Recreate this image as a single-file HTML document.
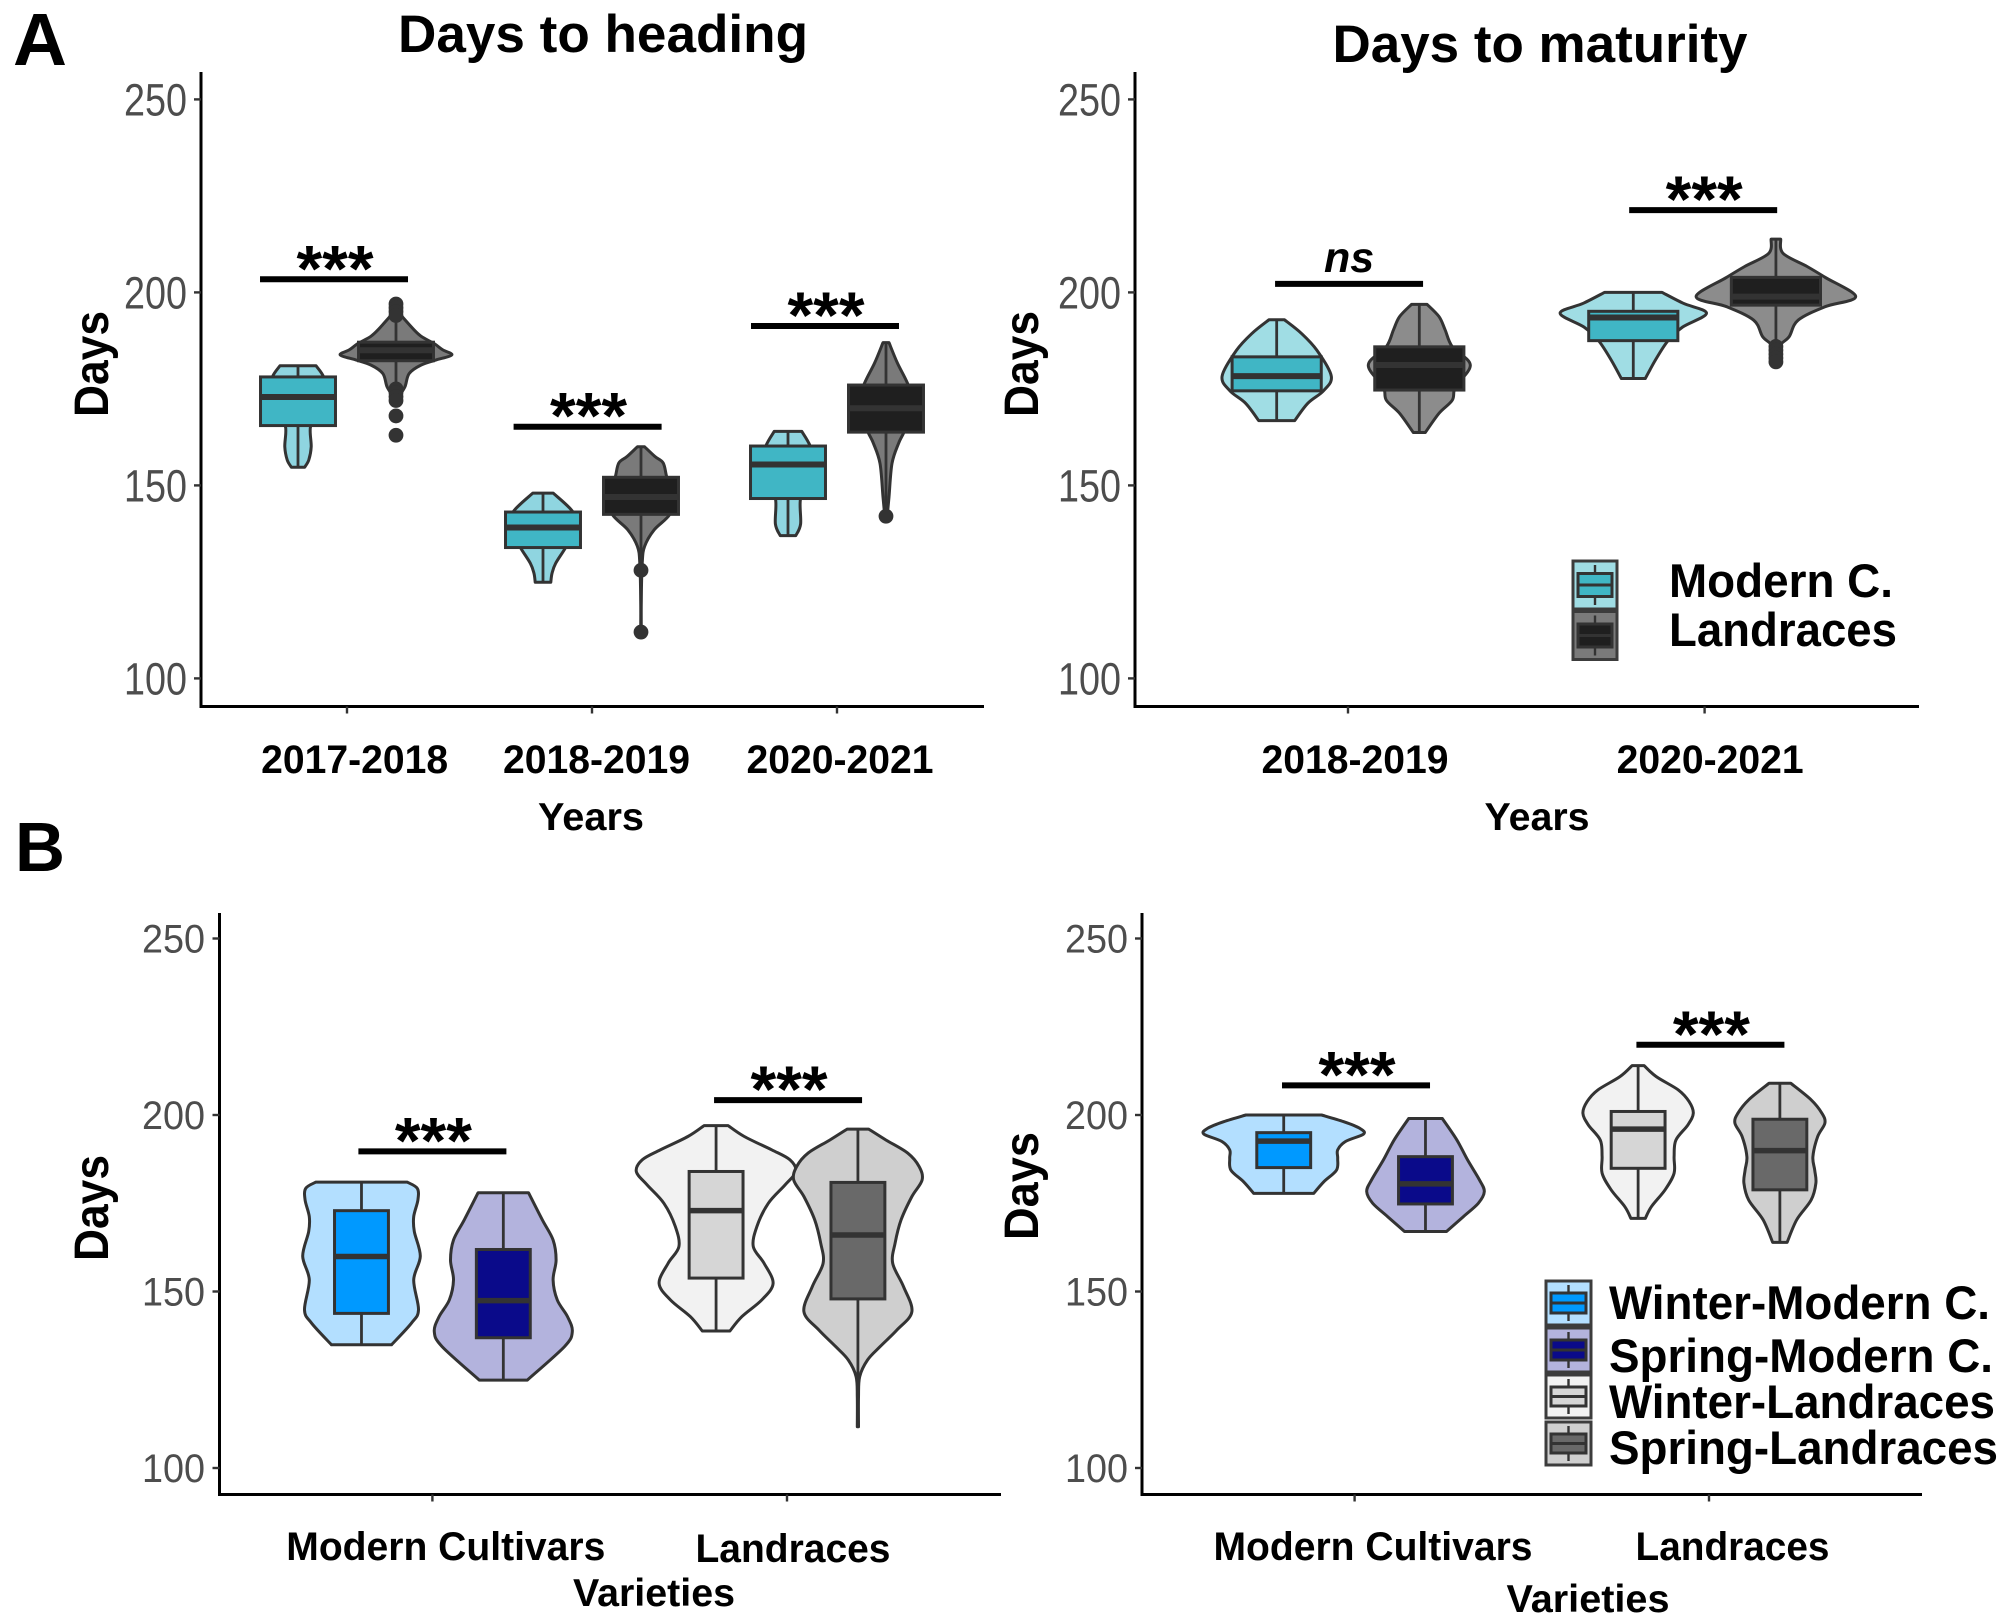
<!DOCTYPE html>
<html lang="en">
<head>
<meta charset="utf-8">
<title>Days to heading and maturity violin plots</title>
<style>
html,body{margin:0;padding:0;background:#fff}
svg{display:block;font-family:"Liberation Sans",Arial,sans-serif}
</style>
</head>
<body>
<svg id="figure" xmlns="http://www.w3.org/2000/svg" width="2009" height="1624" viewBox="0 0 2009 1624">
  <rect x="0" y="0" width="2009" height="1624" fill="#fff"/>
  <text x="13" y="65" font-size="74" font-weight="700" textLength="54" lengthAdjust="spacingAndGlyphs">A</text>
  <text x="15" y="871" font-size="70" font-weight="700" textLength="50" lengthAdjust="spacingAndGlyphs">B</text>
  <text x="603" y="52" text-anchor="middle" font-size="53" font-weight="700" textLength="410" lengthAdjust="spacingAndGlyphs">Days to heading</text>
  <text x="1540" y="62" text-anchor="middle" font-size="53" font-weight="700" textLength="415" lengthAdjust="spacingAndGlyphs">Days to maturity</text>
  <text transform="translate(108,364) rotate(-90)" text-anchor="middle" font-size="48" font-weight="700" textLength="106" lengthAdjust="spacingAndGlyphs">Days</text>
  <text transform="translate(1038,364) rotate(-90)" text-anchor="middle" font-size="48" font-weight="700" textLength="106" lengthAdjust="spacingAndGlyphs">Days</text>
  <text transform="translate(108,1208) rotate(-90)" text-anchor="middle" font-size="48" font-weight="700" textLength="106" lengthAdjust="spacingAndGlyphs">Days</text>
  <text transform="translate(1038,1186) rotate(-90)" text-anchor="middle" font-size="48" font-weight="700" textLength="108" lengthAdjust="spacingAndGlyphs">Days</text>
  <text x="591" y="830" text-anchor="middle" font-size="39" font-weight="700" textLength="106" lengthAdjust="spacingAndGlyphs">Years</text>
  <text x="1537" y="830" text-anchor="middle" font-size="39" font-weight="700" textLength="105" lengthAdjust="spacingAndGlyphs">Years</text>
  <text x="654" y="1606" text-anchor="middle" font-size="39" font-weight="700" textLength="162" lengthAdjust="spacingAndGlyphs">Varieties</text>
  <text x="1588" y="1612" text-anchor="middle" font-size="39" font-weight="700" textLength="163" lengthAdjust="spacingAndGlyphs">Varieties</text>
</svg>
<script>
/* ---------- Panel A left: days to heading by year ---------- */
const headingCategories = ['2017-2018', '2018-2019', '2020-2021'];
const yTickValues = [100, 150, 200, 250];
const headingQ1 = [165.5, 182.3, 133.9, 142.5, 146.6, 163.8];
const headingMedian = [172.9, 185, 139.1, 147, 155.4, 170];
const headingQ3 = [178.1, 187.1, 143.1, 152.1, 160.2, 176];
const headingProfileDays = [
  [181, 178, 173, 168, 165.3, 160, 156.6, 154.7],
  [195, 190.3, 188.5, 186.8, 185.1, 183.8, 182.5, 181.2, 179, 175.6, 173, 171.3],
  [148, 143.1, 139, 134, 129.8, 127.2, 124.9],
  [160, 157.5, 155.8, 152.1, 147, 142.5, 138.5, 134.2, 129.8, 120, 112],
  [164, 160.2, 155, 150, 146.6, 140, 137],
  [187, 181.7, 176, 170, 163.8, 160.9, 155.7, 147, 142]
];
const headingProfileDensity = [
  [.30, .43, .50, .37, .21, .22, .18, .11],
  [.03, .30, .43, .63, .78, .93, .67, .42, .22, .15, .05, .03],
  [.17, .50, .55, .38, .21, .15, .13],
  [.06, .23, .37, .43, .53, .48, .22, .06, .02, .005, .005],
  [.23, .37, .47, .37, .21, .21, .13],
  [.05, .19, .37, .47, .30, .21, .10, .05, .02]
];
const headingOutliers = [
  [],
  [197, 196, 195, 194, 175, 174, 173, 172, 168, 163],
  [],
  [128, 112],
  [],
  [142]
];
const headingBracketDays = [203.4, 165.2, 191.3];
const headingBracketCategory = [-0.053, -0.018, -0.049];
const headingBracketLabels = ['***', '***', '***'];

/* ---------- Panel A right: days to maturity by year ---------- */
const maturityCategories = ['2018-2019', '2020-2021'];
const maturityQ1 = [174.5, 174.7, 187.5, 196.7];
const maturityMedian = [178.3, 181.2, 193.5, 198.9];
const maturityQ3 = [183.3, 185.9, 195.1, 203.9];
const maturityProfileDays = [
  [192.9, 189.4, 185, 178.3, 174.5, 171.3, 166.8],
  [196.9, 193.7, 190.3, 185.9, 181.2, 175.5, 172.1, 168.7, 163.7],
  [200, 197.2, 194.6, 191, 187.5, 182.5, 177.7],
  [213.8, 210.1, 206.7, 203.9, 198.9, 196.3, 192.8, 188.5, 186, 181]
];
const maturityProfileDensity = [
  [.13, .41, .67, .91, .78, .52, .30],
  [.13, .33, .43, .55, .85, .60, .55, .33, .10],
  [.48, .83, 1.22, .82, .58, .37, .20],
  [.08, .12, .52, .82, 1.33, .82, .37, .22, .06, .02]
];
const maturityOutliers = [[], [], [], [186, 185, 184, 183, 182]];
const maturityBracketDays = [202.2, 221.3];
const maturityBracketCategory = [0.003, -0.004];
const maturityBracketLabels = ['ns', '***'];

/* ---------- Panel B left: days to heading by variety ---------- */
const varietyCategories = ['Modern Cultivars', 'Landraces'];
const headingVarietyQ1 = [143.8, 136.9, 153.8, 147.9];
const headingVarietyMedian = [159.9, 147.4, 172.9, 166];
const headingVarietyQ3 = [172.9, 161.9, 184, 180.9];
const headingVarietyProfileDays = [
  [181, 179.2, 175.9, 171.2, 167, 160, 153.3, 144.8, 141, 134.9],
  [178, 170.3, 164.6, 158.9, 153.3, 147.6, 142.9, 138.6, 134.4, 124.9],
  [197, 193.9, 190.1, 187.3, 184, 180.2, 175, 168.4, 162.7, 158, 152.3, 147.6, 142.9, 138.8],
  [196, 192.9, 189.2, 185.4, 181.6, 176.9, 170.3, 163.7, 158, 151.4, 144.3, 139.1, 134.4, 130.6, 125.9, 120, 111.7]
];
const headingVarietyProfileDensity = [
  [.76, .93, .94, .87, .88, .98, .87, .95, .83, .50],
  [.42, .65, .83, .88, .83, .90, 1.07, 1.15, 1.02, .40],
  [.20, .47, .93, 1.23, 1.33, 1.15, .87, .68, .62, .80, .95, .76, .43, .23],
  [.18, .47, .83, 1.02, 1.07, .90, .72, .62, .58, .76, .90, .65, .37, .16, .03, .01, .01]
];
const headingVarietyBracketDays = [189.7, 204.2];
const headingVarietyBracketCategory = [0, 0.003];
const headingVarietyBracketLabels = ['***', '***'];

/* ---------- Panel B right: days to maturity by variety ---------- */
const maturityVarietyQ1 = [185.1, 174.8, 184.9, 178.8];
const maturityVarietyMedian = [192.6, 180.5, 196, 189.9];
const maturityVarietyQ3 = [195, 188.2, 201, 198.8];
const maturityVarietyProfileDays = [
  [200, 198.1, 196.2, 194.6, 192.5, 190.1, 187.7, 184.4, 181.1, 177.8],
  [199, 193, 187.3, 181.6, 178.3, 175, 171.2, 167],
  [214, 210.9, 207.1, 203.8, 200.5, 197.2, 192.9, 188.2, 183.5, 178.8, 174, 170.7],
  [209, 204.3, 200.5, 197.7, 193.9, 188.2, 184.4, 180.7, 175.9, 170.3, 163.9]
];
const maturityVarietyProfileDensity = [
  [.63, 1.0, 1.27, 1.33, 1.03, .90, .90, .88, .67, .50],
  [.28, .52, .70, .90, .98, .88, .63, .35],
  [.10, .30, .67, .85, .92, .83, .63, .60, .60, .45, .22, .12],
  [.18, .52, .70, .75, .63, .55, .58, .60, .52, .28, .12]
];
const maturityVarietyBracketDays = [208.4, 219.9];
const maturityVarietyBracketCategory = [0.004, 0.004];
const maturityVarietyBracketLabels = ['***', '***'];

/* ---------- Legend entries ---------- */
const yearLegendLabels = ['Modern C.', 'Landraces'];
const varietyLegendLabels = ['Winter-Modern C.', 'Spring-Modern C.', 'Winter-Landraces', 'Spring-Landraces'];

const NS = 'http://www.w3.org/2000/svg';
const svg = document.getElementById('figure');
const INK = '#333333';

function mk(tag, attrs, parent) {
  const el = document.createElementNS(NS, tag);
  for (const k in attrs) el.setAttribute(k, attrs[k]);
  (parent || svg).appendChild(el);
  return el;
}

function linear(d0, d1, r0, r1) {
  return v => r0 + (v - d0) * (r1 - r0) / (d1 - d0);
}

function curveThrough(p) {
  let d = '';
  for (let i = 0; i < p.length - 1; i++) {
    const a = p[Math.max(i - 1, 0)], b = p[i], c = p[i + 1], e = p[Math.min(i + 2, p.length - 1)];
    const c1x = b[0] + (c[0] - a[0]) / 6, c1y = b[1] + (c[1] - a[1]) / 6;
    const c2x = c[0] - (e[0] - b[0]) / 6, c2y = c[1] - (e[1] - b[1]) / 6;
    d += ' C' + c1x.toFixed(1) + ' ' + c1y.toFixed(1) + ' ' + c2x.toFixed(1) + ' ' + c2y.toFixed(1) + ' ' + c[0].toFixed(1) + ' ' + c[1].toFixed(1);
  }
  return d;
}

function drawAxes(cfg, x, y, g) {
  const yAxis = mk('line', {x1: cfg.left, x2: cfg.left, y1: cfg.top, y2: cfg.bottom + 1.5, stroke: '#000', 'stroke-width': 3}, g);
  
  
  const xAxis = mk('line', {x1: cfg.left, x2: cfg.right, y1: cfg.bottom, y2: cfg.bottom, stroke: '#000', 'stroke-width': 3}, g);
  
  
  yTickValues.forEach(v => {
    const t = mk('line', {x1: cfg.left - 7, x2: cfg.left, y1: y(v), y2: y(v), stroke: INK, 'stroke-width': 2.4}, g);
    
    
    const l = mk('text', {x: cfg.yLabelRight, y: y(v) + cfg.yLabelDrop, 'text-anchor': 'end', 'font-size': cfg.yLabelSize, fill: '#4d4d4d', textLength: 63, lengthAdjust: 'spacingAndGlyphs'}, g);
    l.textContent = v;
    
    
  });
  cfg.categories.forEach((c, i) => {
    const t = mk('line', {x1: x(i), x2: x(i), y1: cfg.bottom, y2: cfg.bottom + 7, stroke: INK, 'stroke-width': 2.4}, g);
    
    
    const l = mk('text', {x: x(i) + cfg.labelNudge[i], y: cfg.labelBaseline[i], 'text-anchor': 'middle', 'font-size': 40, 'font-weight': 700, fill: '#000', textLength: cfg.labelWidth[i], lengthAdjust: 'spacingAndGlyphs'}, g);
    l.textContent = c;
    
    
  });
}

function drawViolin(cfg, s, x, y, g) {
  const group = Math.floor(s / 2), side = s % 2 === 0 ? -1 : 1;
  const cx = x(group + side * cfg.dodge);
  const days = cfg.days[s], dens = cfg.density[s];
  const wScale = d => d * 60;
  const left = days.map((v, i) => [cx - wScale(dens[i]), y(v)]);
  const right = days.map((v, i) => [cx + wScale(dens[i]), y(v)]).reverse();
  const d = 'M' + left[0][0].toFixed(1) + ' ' + left[0][1].toFixed(1) + curveThrough(left) +
    ' L' + right[0][0].toFixed(1) + ' ' + right[0][1].toFixed(1) + curveThrough(right) + ' Z';
  const st = cfg.styles[s];
  const v = mk('path', {d: d, fill: st.violin, stroke: INK, 'stroke-width': 3, 'stroke-linejoin': 'round'}, g);
  
  
  const whisker = mk('line', {x1: cx, x2: cx, y1: y(Math.max.apply(null, days)), y2: y(Math.min.apply(null, days)), stroke: INK, 'stroke-width': 2.8}, g);
  
  
  const bx = x(group + side * cfg.dodge - cfg.boxHalf), bx2 = x(group + side * cfg.dodge + cfg.boxHalf);
  const box = mk('rect', {x: bx, y: y(cfg.q3[s]), width: bx2 - bx, height: y(cfg.q1[s]) - y(cfg.q3[s]), fill: st.box, stroke: INK, 'stroke-width': 3}, g);
  
  
  const med = mk('line', {x1: bx, x2: bx2, y1: y(cfg.median[s]), y2: y(cfg.median[s]), stroke: INK, 'stroke-width': cfg.medianWidth}, g);
  
  
  (cfg.outliers ? cfg.outliers[s] : []).forEach(o => {
    const dot = mk('circle', {cx: cx, cy: y(o), r: 7.4, fill: INK}, g);
    
    
  });
}

function drawBrackets(cfg, x, y, g) {
  cfg.bracketDays.forEach((v, i) => {
    const c = x(i + cfg.bracketCat[i]);
    const half = 74;
    const bar = mk('line', {x1: c - half, x2: c + half, y1: y(v), y2: y(v), stroke: '#000', 'stroke-width': 6}, g);
    
    
    const isNs = cfg.bracketLabels[i] === 'ns';
    const label = mk('text', isNs
      ? {x: c, y: y(v) - 12, 'text-anchor': 'middle', 'font-size': 43, 'font-weight': 700, 'font-style': 'italic', fill: '#000'}
      : {x: c + 1, y: y(v) + 12, 'text-anchor': 'middle', 'font-size': 66, 'font-weight': 700, fill: '#000'}, g);
    label.textContent = cfg.bracketLabels[i];
    
    
  });
}

function drawPanel(cfg) {
  const g = mk('g', {});
  
  
  const x = linear(0, 1, cfg.x0, cfg.x0 + cfg.xStep);
  const y = linear(100, 250, cfg.y100, cfg.y250);
  drawAxes(cfg, x, y, g);
  cfg.days.forEach((_, s) => drawViolin(cfg, s, x, y, g));
  drawBrackets(cfg, x, y, g);
}

const modernA1 = {violin: '#8fd5e0', box: '#40b6c5'};
const landA1 = {violin: '#7a7a7a', box: '#1f1f1f'};
const modernA2 = {violin: '#a0dde4', box: '#40b6c5'};
const landA2 = {violin: '#8c8c8c', box: '#1f1f1f'};
const winterModern = {violin: '#b3dfff', box: '#0099ff'};
const springModern = {violin: '#b3b3dd', box: '#0a0a8a'};
const winterLand = {violin: '#f2f2f2', box: '#d6d6d6'};
const springLand = {violin: '#cfcfcf', box: '#696969'};
const varietyStyles = [winterModern, springModern, winterLand, springLand];

drawPanel({
  name: 'heading-by-year-panel', categories: headingCategories,
  left: 201, right: 984, top: 72, bottom: 706.5, x0: 347, xStep: 245, y100: 678.4, y250: 99.4,
  yLabelRight: 187, yLabelDrop: 16, yLabelSize: 45,
  labelNudge: [7.6, 4.5, 3], labelBaseline: [773, 773, 773], labelWidth: [187, 187, 187],
  dodge: 0.2, boxHalf: 0.153, medianWidth: 6,
  days: headingProfileDays, density: headingProfileDensity,
  q1: headingQ1, median: headingMedian, q3: headingQ3, outliers: headingOutliers,
  bracketDays: headingBracketDays, bracketCat: headingBracketCategory, bracketLabels: headingBracketLabels,
  styles: [modernA1, landA1, modernA1, landA1, modernA1, landA1]
});
drawPanel({
  name: 'maturity-by-year-panel', categories: maturityCategories,
  left: 1135, right: 1919, top: 72, bottom: 706.5, x0: 1348, xStep: 356.6, y100: 678.4, y250: 99.4,
  yLabelRight: 1121, yLabelDrop: 16, yLabelSize: 45,
  labelNudge: [7, 5.5], labelBaseline: [773, 773], labelWidth: [187, 187],
  dodge: 0.2, boxHalf: 0.125, medianWidth: 6,
  days: maturityProfileDays, density: maturityProfileDensity,
  q1: maturityQ1, median: maturityMedian, q3: maturityQ3, outliers: maturityOutliers,
  bracketDays: maturityBracketDays, bracketCat: maturityBracketCategory, bracketLabels: maturityBracketLabels,
  styles: [modernA2, landA2, modernA2, landA2]
});
drawPanel({
  name: 'heading-by-variety-panel', categories: varietyCategories,
  left: 219.5, right: 1001, top: 913, bottom: 1494.5, x0: 432.4, xStep: 354.6, y100: 1468, y250: 938.5,
  yLabelRight: 205, yLabelDrop: 14, yLabelSize: 40,
  labelNudge: [13.4, 6], labelBaseline: [1560, 1562], labelWidth: [319, 195],
  dodge: 0.2, boxHalf: 0.076, medianWidth: 5.5,
  days: headingVarietyProfileDays, density: headingVarietyProfileDensity,
  q1: headingVarietyQ1, median: headingVarietyMedian, q3: headingVarietyQ3,
  bracketDays: headingVarietyBracketDays, bracketCat: headingVarietyBracketCategory, bracketLabels: headingVarietyBracketLabels,
  styles: varietyStyles
});
drawPanel({
  name: 'maturity-by-variety-panel', categories: varietyCategories,
  left: 1142, right: 1922, top: 913, bottom: 1494.5, x0: 1354.6, xStep: 354.4, y100: 1468, y250: 938.5,
  yLabelRight: 1128, yLabelDrop: 14, yLabelSize: 40,
  labelNudge: [18.4, 23.5], labelBaseline: [1560, 1560], labelWidth: [319, 194],
  dodge: 0.2, boxHalf: 0.076, medianWidth: 5.5,
  days: maturityVarietyProfileDays, density: maturityVarietyProfileDensity,
  q1: maturityVarietyQ1, median: maturityVarietyMedian, q3: maturityVarietyQ3,
  bracketDays: maturityVarietyBracketDays, bracketCat: maturityVarietyBracketCategory, bracketLabels: maturityVarietyBracketLabels,
  styles: varietyStyles
});

function drawKey(g, kx, ky, kw, kh, inset, style) {
  const outer = mk('rect', {x: kx, y: ky, width: kw, height: kh, fill: style.violin, stroke: '#3c3c3c', 'stroke-width': 3}, g);
  
  
  const whisk = mk('line', {x1: kx + kw / 2, x2: kx + kw / 2, y1: ky + 4, y2: ky + kh - 4, stroke: INK, 'stroke-width': 2.4}, g);
  
  
  const inner = mk('rect', {x: kx + 5, y: ky + inset, width: kw - 10, height: kh - 2 * inset, fill: style.box, stroke: INK, 'stroke-width': 3}, g);
  
  
  const mid = mk('line', {x1: kx + 5, x2: kx + kw - 5, y1: ky + kh / 2, y2: ky + kh / 2, stroke: INK, 'stroke-width': 3}, g);
  
  
}

function drawLegendLabel(g, tx, ty, tw, str) {
  const t = mk('text', {x: tx, y: ty, 'font-size': 47, 'font-weight': 700, fill: '#000', textLength: tw, lengthAdjust: 'spacingAndGlyphs'}, g);
  t.textContent = str;
  
  
}

const legendYear = mk('g', {});


drawKey(legendYear, 1573, 561, 44, 48, 12.5, modernA2);
drawKey(legendYear, 1573, 611.5, 44, 48, 12.5, {violin: '#7a7a7a', box: '#1f1f1f'});
drawLegendLabel(legendYear, 1669, 597, 224, yearLegendLabels[0]);
drawLegendLabel(legendYear, 1669, 646, 228, yearLegendLabels[1]);

const legendVariety = mk('g', {});


drawKey(legendVariety, 1546, 1281, 45, 44, 12, winterModern);
drawKey(legendVariety, 1546, 1328, 45, 44, 12, springModern);
drawKey(legendVariety, 1546, 1375, 45, 43, 12, winterLand);
drawKey(legendVariety, 1546, 1422, 45, 43, 12, springLand);
drawLegendLabel(legendVariety, 1609, 1319, 381, varietyLegendLabels[0]);
drawLegendLabel(legendVariety, 1609, 1372, 384, varietyLegendLabels[1]);
drawLegendLabel(legendVariety, 1609, 1418, 386, varietyLegendLabels[2]);
drawLegendLabel(legendVariety, 1609, 1464, 389, varietyLegendLabels[3]);
</script>
</body>
</html>
